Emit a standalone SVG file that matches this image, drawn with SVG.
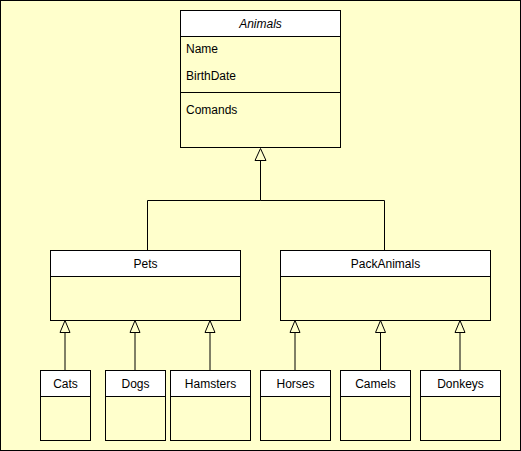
<svg xmlns="http://www.w3.org/2000/svg" width="521" height="451" viewBox="0 0 521 451">
<style>
.box{fill:#FFFFCC;stroke:#000;stroke-width:1}
.hdr{fill:#FFFFFF;stroke:#000;stroke-width:1}
.t{font-family:"Liberation Sans",Arial,sans-serif;font-size:12px;fill:#000}
.c{text-anchor:middle}
.ln{fill:none;stroke:#000;stroke-width:1}
.tri{fill:#FFFFCC;stroke:#000;stroke-width:1}
</style>
<rect x="0.5" y="0.5" width="520" height="450" fill="#FFFFCC" stroke="#000"/>
<g id="connectors">
<polyline class="ln" points="260.5,160 260.5,200.5 147.5,200.5 147.5,250"/>
<polyline class="ln" points="260.5,200.5 384.5,200.5 384.5,250"/>
<polygon class="tri" points="260.5,148.5 255,160.5 266,160.5"/>
<line class="ln" x1="65" y1="332" x2="65" y2="370"/>
<polygon class="tri" points="65,320.5 60,332.5 70,332.5"/>
<line class="ln" x1="135" y1="332" x2="135" y2="370"/>
<polygon class="tri" points="135,320.5 130,332.5 140,332.5"/>
<line class="ln" x1="210" y1="332" x2="210" y2="370"/>
<polygon class="tri" points="210,320.5 205,332.5 215,332.5"/>
<line class="ln" x1="295" y1="332" x2="295" y2="370"/>
<polygon class="tri" points="295,320.5 290,332.5 300,332.5"/>
<line class="ln" x1="380.5" y1="332" x2="380.5" y2="370"/>
<polygon class="tri" points="380.5,320.5 375.5,332.5 385.5,332.5"/>
<line class="ln" x1="460" y1="332" x2="460" y2="370"/>
<polygon class="tri" points="460,320.5 455,332.5 465,332.5"/>
</g>
<g id="animals">
<rect class="box" x="180.5" y="10.5" width="160" height="137"/>
<rect class="hdr" x="180.5" y="10.5" width="160" height="26"/>
<line class="ln" x1="180.5" y1="92.5" x2="340.5" y2="92.5"/>
<text class="t c" x="260.5" y="28" font-style="italic">Animals</text>
<text class="t" x="186" y="53">Name</text>
<text class="t" x="186" y="80">BirthDate</text>
<text class="t" x="186" y="114">Comands</text>
</g>
<g id="pets">
<rect class="box" x="50.5" y="250.5" width="190" height="70"/>
<rect class="hdr" x="50.5" y="250.5" width="190" height="26"/>
<text class="t c" x="145.5" y="268">Pets</text>
</g>
<g id="packanimals">
<rect class="box" x="280.5" y="250.5" width="210" height="70"/>
<rect class="hdr" x="280.5" y="250.5" width="210" height="26"/>
<text class="t c" x="385.5" y="268">PackAnimals</text>
</g>
<g id="cats">
<rect class="box" x="40.5" y="370.5" width="50" height="70"/>
<rect class="hdr" x="40.5" y="370.5" width="50" height="26"/>
<text class="t c" x="65.5" y="388">Cats</text>
</g>
<g id="dogs">
<rect class="box" x="105.5" y="370.5" width="60" height="70"/>
<rect class="hdr" x="105.5" y="370.5" width="60" height="26"/>
<text class="t c" x="135.5" y="388">Dogs</text>
</g>
<g id="hamsters">
<rect class="box" x="170.5" y="370.5" width="80" height="70"/>
<rect class="hdr" x="170.5" y="370.5" width="80" height="26"/>
<text class="t c" x="210.5" y="388">Hamsters</text>
</g>
<g id="horses">
<rect class="box" x="260.5" y="370.5" width="70" height="70"/>
<rect class="hdr" x="260.5" y="370.5" width="70" height="26"/>
<text class="t c" x="295.5" y="388">Horses</text>
</g>
<g id="camels">
<rect class="box" x="340.5" y="370.5" width="70" height="70"/>
<rect class="hdr" x="340.5" y="370.5" width="70" height="26"/>
<text class="t c" x="375.5" y="388">Camels</text>
</g>
<g id="donkeys">
<rect class="box" x="420.5" y="370.5" width="80" height="70"/>
<rect class="hdr" x="420.5" y="370.5" width="80" height="26"/>
<text class="t c" x="460.5" y="388">Donkeys</text>
</g>
</svg>
